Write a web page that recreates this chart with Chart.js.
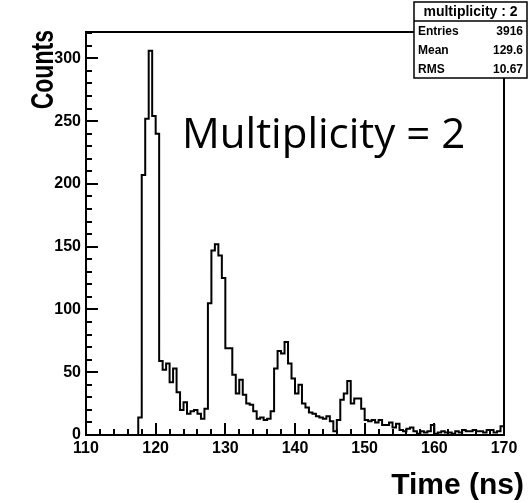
<!DOCTYPE html>
<html>
<head>
<meta charset="utf-8">
<script src="https://cdn.jsdelivr.net/npm/chart.js@4.4.0/dist/chart.umd.min.js"></script>
<style>
  html, body { margin: 0; padding: 0; background: #fff; }
  #wrap { width: 529px; height: 503px; position: relative; }
</style>
</head>
<body>
<div id="wrap"><canvas id="histChart"></canvas></div>
<script>
// Time spectrum for multiplicity 2, 0.5 ns bins from 110 to 170 ns

const binStart = 110;
const binWidth = 0.5;

const counts = [
    0, 0, 0, 0, 0, 0, 0, 0, 0, 0, 0, 0, 0, 0, 0, 14,          // 110.0 - 117.5
    207, 252, 306, 254, 240, 59, 52, 57, 42, 53, 34, 20,      // 118.0 - 123.5
    26, 17, 19, 20, 17, 13, 21, 105, 147, 152, 143, 125,      // 124.0 - 129.5
    69, 69, 48, 33, 44, 32, 25, 24, 19, 13, 14, 12,           // 130.0 - 135.5
    13, 19, 53, 67, 65, 74, 57, 45, 33, 40, 25, 22,           // 136.0 - 141.5
    18, 17, 15, 14, 13, 15, 11, 3, 12, 28, 33, 43,           // 142.0 - 147.5
    25, 29, 29, 21, 12, 11, 12, 10, 12, 8, 8, 10,             // 148.0 - 153.5
    6, 9, 4, 3, 5, 6, 3, 1, 3, 2, 3, 8,                       // 154.0 - 159.5
    1, 2, 3, 2, 2, 1, 3, 2, 4, 3, 3, 4,                       // 160.0 - 165.5
    3, 3, 2, 4, 4, 2, 3, 7                                    // 166.0 - 169.5
];

const xTickValues = [110, 120, 130, 140, 150, 160, 170];
const yTickValues = [0, 50, 100, 150, 200, 250, 300];

const statsTitle = 'multiplicity : 2';
const statsNames = ['Entries', 'Mean', 'RMS'];
const statsValues = ['3916', '129.6', '10.67'];

const xMin = 110, xMax = 170, yMax = 321;

// bin left edges + closing point at the right edge
const histPoints = counts.map((c, i) => ({ x: binStart + i * binWidth, y: c }));
histPoints.push({ x: binStart + counts.length * binWidth, y: counts[counts.length - 1] });

const labelFont = { family: 'Liberation Sans', size: 16, weight: 'bold' };

// Frame, inward ticks, titles and stats box (ROOT style)
const rootDecor = {
    id: 'rootDecor',
    afterDraw(chart) {
        const { ctx, chartArea: a, scales: { x, y } } = chart;
        ctx.save();
        ctx.strokeStyle = '#000';
        ctx.fillStyle = '#000';
        ctx.lineWidth = 2;
        ctx.strokeRect(a.left, a.top, a.right - a.left, a.bottom - a.top);

        ctx.beginPath();
        for (let v = xMin; v <= xMax; v += 2) {
            const px = Math.round(x.getPixelForValue(v));
            const len = v % 10 === 0 ? 12 : 6;
            ctx.moveTo(px, a.bottom);
            ctx.lineTo(px, a.bottom - len);
        }
        for (let v = 0; v <= yMax; v += 10) {
            const py = Math.round(y.getPixelForValue(v));
            const len = v % 50 === 0 ? 12 : 6;
            ctx.moveTo(a.left, py);
            ctx.lineTo(a.left + len, py);
        }
        ctx.stroke();

        // axis titles
        ctx.font = 'bold 30px "Liberation Sans"';
        ctx.textAlign = 'right';
        ctx.textBaseline = 'alphabetic';
        ctx.fillText('Time (ns)', 524, 494);

        ctx.save();
        ctx.translate(53, a.top - 2);
        ctx.rotate(-Math.PI / 2);
        ctx.scale(0.72, 1);
        ctx.font = 'bold 32px "Liberation Sans"';
        ctx.fillText('Counts', 0, 0);
        ctx.restore();

        // big label
        ctx.font = '42px "Open Sans"';
        ctx.textAlign = 'left';
        ctx.fillText('Multiplicity = 2', 182, 148);

        // stats box
        const bx = 414, by = 2, bw = 113, bh = 76;
        const row = bh / 4;
        ctx.fillStyle = '#fff';
        ctx.fillRect(bx, by, bw, bh);
        ctx.lineWidth = 1.5;
        ctx.strokeRect(bx, by, bw, bh);
        ctx.beginPath();
        ctx.moveTo(bx, by + row);
        ctx.lineTo(bx + bw, by + row);
        ctx.stroke();

        ctx.fillStyle = '#000';
        ctx.textBaseline = 'middle';
        ctx.textAlign = 'center';
        ctx.font = 'bold 14px "Liberation Sans"';
        ctx.fillText(statsTitle, bx + bw / 2, by + row / 2 + 1);
        ctx.font = 'bold 12px "Liberation Sans"';
        statsNames.forEach((name, i) => {
            const cy = by + row * (i + 1.5) + 1;
            ctx.textAlign = 'left';
            ctx.fillText(name, bx + 4, cy);
            ctx.textAlign = 'right';
            ctx.fillText(statsValues[i], bx + bw - 4, cy);
        });
        ctx.restore();
    }
};

const config = {
    type: 'line',
    data: {
        datasets: [{
            data: histPoints,
            stepped: true,
            borderColor: '#000',
            borderWidth: 2,
            pointRadius: 0,
            fill: false
        }]
    },
    options: {
        responsive: true,
        maintainAspectRatio: false,
        animation: false,
        layout: {
            padding: { left: 0, top: 32, right: 25, bottom: 0 }
        },
        plugins: {
            legend: { display: false },
            tooltip: { enabled: false }
        },
        scales: {
            x: {
                type: 'linear',
                min: xMin,
                max: xMax,
                grid: { display: false, drawTicks: false },
                border: { display: false },
                afterBuildTicks: scale => {
                    scale.ticks = xTickValues.map(v => ({ value: v }));
                },
                afterFit: scale => { scale.height = 68; },
                ticks: {
                    color: '#000',
                    font: labelFont,
                    padding: 4,
                    maxRotation: 0,
                    autoSkip: false
                }
            },
            y: {
                min: 0,
                max: yMax,
                grid: { display: false, drawTicks: false },
                border: { display: false },
                afterBuildTicks: scale => {
                    scale.ticks = yTickValues.map(v => ({ value: v }));
                },
                afterFit: scale => { scale.width = 86; },
                ticks: {
                    color: '#000',
                    font: labelFont,
                    padding: 5
                }
            }
        }
    },
    plugins: [rootDecor]
};

new Chart(document.getElementById('histChart'), config);
</script>
</body>
</html>
